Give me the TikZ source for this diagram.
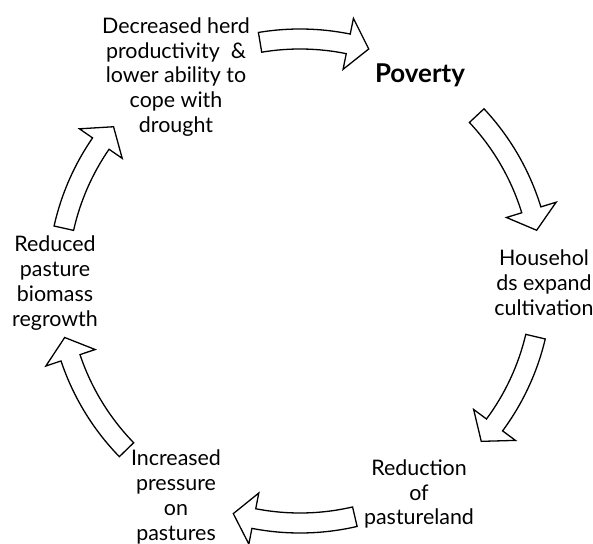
\documentclass[tikz,border=0pt]{standalone}
\usepackage{fontspec}
\setmainfont{Lato}

% Hollow block arrow running clockwise along the ring around the centre.
% #1 = angle of the tail, #2 = angle of the tip (degrees, #1 > #2).
\newcommand\ringarrow[2]{%
  \pgfmathsetmacro\headang{#2+5}%
  \draw[blockarrow]
    (#1:252bp) arc[start angle=#1, end angle=\headang, radius=252bp]
    -- (\headang:268bp) -- (#2:242bp) -- (\headang:216bp)
    -- (\headang:232bp) arc[start angle=\headang, end angle=#1, radius=232bp]
    -- cycle;}

\begin{document}
\begin{tikzpicture}[x=1bp,y=1bp,
  steptext/.style={align=center, inner sep=0pt,
    font=\fontsize{21.5}{25}\selectfont},
  blockarrow/.style={draw=black, line width=1.3bp, fill=white,
    line join=miter}]
\useasboundingbox (0,0) rectangle (593,544);

% the six stages of the cycle
\node[steptext] (herd) at (176,467)
  {Decreased herd\\productivity \ \&\\lower ability to\\cope with\\drought};
\node[steptext, font=\fontsize{26}{30}\selectfont\bfseries] (poverty) at (420,469) {Poverty};
\node[steptext] (cultivation) at (544,261) {Househol\\ds expand\\cultivation};
\node[steptext] (pastureland) at (419,50) {Reduction\\of\\pastureland};
\node[steptext] (pressure) at (176,47) {Increased\\pressure\\on\\pastures};
\node[steptext] (biomass) at (55,261) {Reduced\\pasture\\biomass\\regrowth};

% arrows around the ring
\coordinate (hub) at (300,263);
\begin{scope}[shift={(hub)}]
  \ringarrow{99.5}{73.5}
  \ringarrow{43.1}{12.1}
  \ringarrow{-13.3}{-41.5}
  \ringarrow{-76.9}{-106}
  \ringarrow{-135.8}{-166.5}
  \ringarrow{167.4}{140.4}
\end{scope}
\end{tikzpicture}
\end{document}
